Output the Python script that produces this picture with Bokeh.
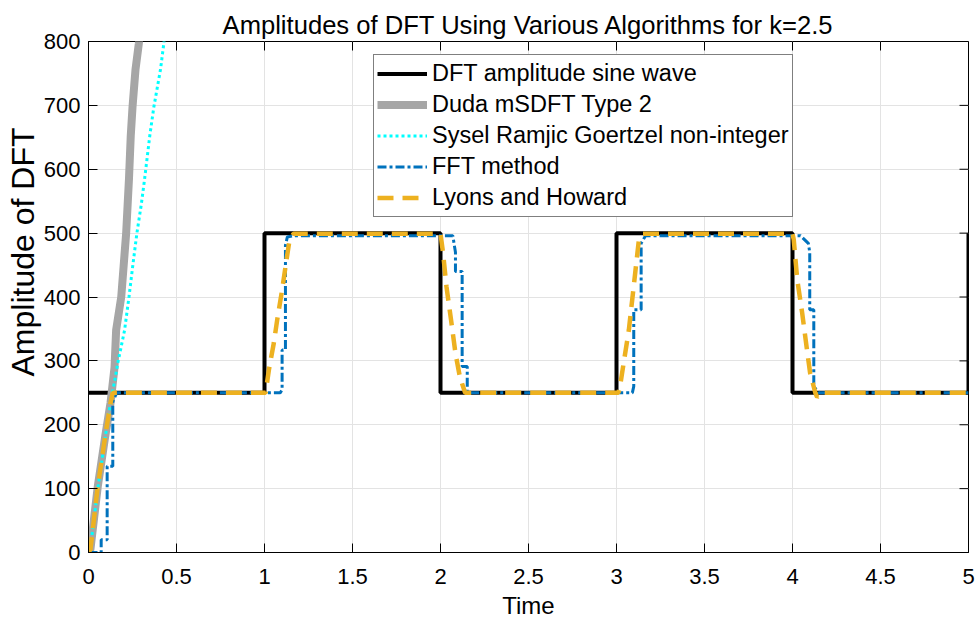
import math
from bokeh.plotting import figure
from bokeh.models import FixedTicker, Range1d, Legend, LegendItem, Title
from bokeh.embed import file_html
from bokeh.resources import INLINE

# ---------------- data ----------------
x_ticks = [0, 0.5, 1, 1.5, 2, 2.5, 3, 3.5, 4, 4.5, 5]
x_tick_labels = ["0", "0.5", "1", "1.5", "2", "2.5", "3", "3.5", "4", "4.5", "5"]
y_ticks = [0, 100, 200, 300, 400, 500, 600, 700, 800]
y_tick_labels = ["0", "100", "200", "300", "400", "500", "600", "700", "800"]

dft_t = [0, 1, 1, 2, 2, 3, 3, 4, 4, 5, 5]
dft_v = [250, 250, 500, 500, 250, 250, 500, 500, 250, 250, 500]

duda_t = [0, 0.011, 0.053, 0.095, 0.125, 0.148, 0.157, 0.186, 0.214, 0.23, 0.24, 0.25, 0.267, 0.286, 0.292]
duda_v = [0, 5, 104, 182, 234, 290, 348, 400, 500, 585, 652, 697, 756, 797, 815]

sysel_t = [0, 0.011, 0.053, 0.095, 0.125, 0.153, 0.166, 0.205, 0.23, 0.252, 0.275, 0.3, 0.318, 0.348, 0.371, 0.409, 0.428, 0.433]
sysel_v = [0, 8, 100, 180, 234, 275, 296, 348, 400, 450, 500, 545, 583, 652, 697, 756, 797, 810]

fft_t = [0, 0.072, 0.072, 0.106, 0.106, 0.138, 0.138, 0.16,
         1.09, 1.1, 1.1, 1.119, 1.119, 1.13, 1.165,
         2.07, 2.085, 2.085, 2.123, 2.123, 2.152, 2.152,
         3.09, 3.098, 3.098, 3.14, 3.14, 3.165,
         4.045, 4.09, 4.098, 4.098, 4.121, 4.121, 4.15, 5]
fft_v = [0, 0, 20, 20, 135, 135, 236, 250,
         250, 255, 317, 317, 481, 494, 496,
         496, 470, 440, 440, 291, 291, 250,
         250, 260, 380, 380, 484, 496,
         496, 484, 470, 380, 380, 260, 250, 250]

lyons_t = [0, 0.011, 0.053, 0.095, 0.125, 0.138,
           1.006, 1.025, 1.053, 1.072, 1.1, 1.125, 1.142, 1.165,
           2.0, 2.015, 2.034, 2.06, 2.085, 2.11, 2.14,
           3.011, 3.02, 3.042, 3.07, 3.089, 3.108, 3.127, 3.15,
           4.0, 4.007, 4.027, 4.055, 4.08, 4.10, 4.13, 4.14, 4.16, 5]
lyons_v = [0, 5, 104, 182, 234, 250,
           250, 286, 328, 364, 411, 458, 489, 499,
           499, 468, 416, 364, 312, 275, 250,
           250, 260, 299, 348, 395, 442, 489, 499,
           499, 490, 427, 375, 322, 281, 250, 243, 250, 250]

FONT = "Liberation Sans"

p = figure(width=976, height=621, x_range=Range1d(0, 5), y_range=Range1d(0, 800),
           output_backend="svg", toolbar_location=None,
           min_border_left=88, min_border_right=8, min_border_top=41, min_border_bottom=68,
           x_axis_label="Time",
           title="Amplitudes of DFT Using Various Algorithms for k=2.5")

p.title.align = "center"
p.title.text_font = FONT
p.title.text_font_size = "25.6px"
p.title.text_font_style = "normal"
p.title.text_color = "black"
p.title.standoff = 6
p.outline_line_color = "black"
p.outline_line_width = 1
p.background_fill_color = "white"
p.border_fill_color = "white"

for ax, ticks, labels in ((p.xaxis[0], x_ticks, x_tick_labels), (p.yaxis[0], y_ticks, y_tick_labels)):
    ax.ticker = FixedTicker(ticks=ticks)
    ax.major_label_overrides = {t: l for t, l in zip(ticks, labels)}
    ax.major_tick_in = 9
    ax.major_tick_out = 0
    ax.minor_tick_in = 0
    ax.minor_tick_out = 0
    ax.axis_line_color = "black"
    ax.major_tick_line_color = "black"
    ax.major_label_text_font = FONT
    ax.major_label_text_font_size = "22px"
    ax.major_label_text_color = "black"
    ax.axis_label_text_font = FONT
    ax.axis_label_text_font_style = "normal"
    ax.axis_label_text_color = "black"

p.xaxis.major_label_standoff = 16
p.xaxis.axis_label_text_font_size = "24px"
p.xaxis.axis_label_standoff = 5
p.yaxis.major_label_standoff = 8

# y axis title (rotated) in the left panel; its top end sits below the frame top
ytitle = Title(text="Amplitude of DFT", align="right", offset=86, standoff=0,
               text_font=FONT, text_font_size="32px", text_font_style="normal",
               text_color="black")
p.add_layout(ytitle, "left")

# inward tick marks on the top and right edges of the box
p.ray(x=x_ticks, y=[800] * len(x_ticks), length=9, length_units="screen",
      angle=-math.pi / 2, line_color="black", line_width=1)
p.ray(x=[5] * len(y_ticks), y=y_ticks, length=9, length_units="screen",
      angle=math.pi, line_color="black", line_width=1)

p.xgrid.grid_line_color = "#e3e3e3"
p.ygrid.grid_line_color = "#e3e3e3"

r1 = p.line(dft_t, dft_v, line_color="black", line_width=4)
r2 = p.line(duda_t, duda_v, line_color="#a6a6a6", line_width=8)
r3 = p.line(sysel_t, sysel_v, line_color="#00ffff", line_width=3, line_dash="3 3")
r4 = p.line(fft_t, fft_v, line_color="#0072bd", line_width=3, line_dash="9 3 3 3")
r5 = p.line(lyons_t, lyons_v, line_color="#edb120", line_width=4.5, line_dash="16 9")

legend = Legend(items=[
    LegendItem(label="DFT amplitude sine wave", renderers=[r1]),
    LegendItem(label="Duda mSDFT Type 2", renderers=[r2]),
    LegendItem(label="Sysel Ramjic Goertzel non-integer", renderers=[r3]),
    LegendItem(label="FFT method", renderers=[r4]),
    LegendItem(label="Lyons and Howard", renderers=[r5]),
], location=(285, 335))
legend.label_text_font = FONT
legend.label_text_font_size = "23.5px"
legend.label_text_color = "black"
legend.glyph_width = 50
legend.glyph_height = 31
legend.label_height = 31
legend.label_standoff = 5
legend.spacing = 0
legend.padding = 3
legend.margin = 0
legend.border_line_color = "black"
legend.border_line_width = 1
legend.background_fill_color = "white"
legend.background_fill_alpha = 1
p.add_layout(legend, "center")

open("out.html", "w").write(file_html(p, INLINE))
